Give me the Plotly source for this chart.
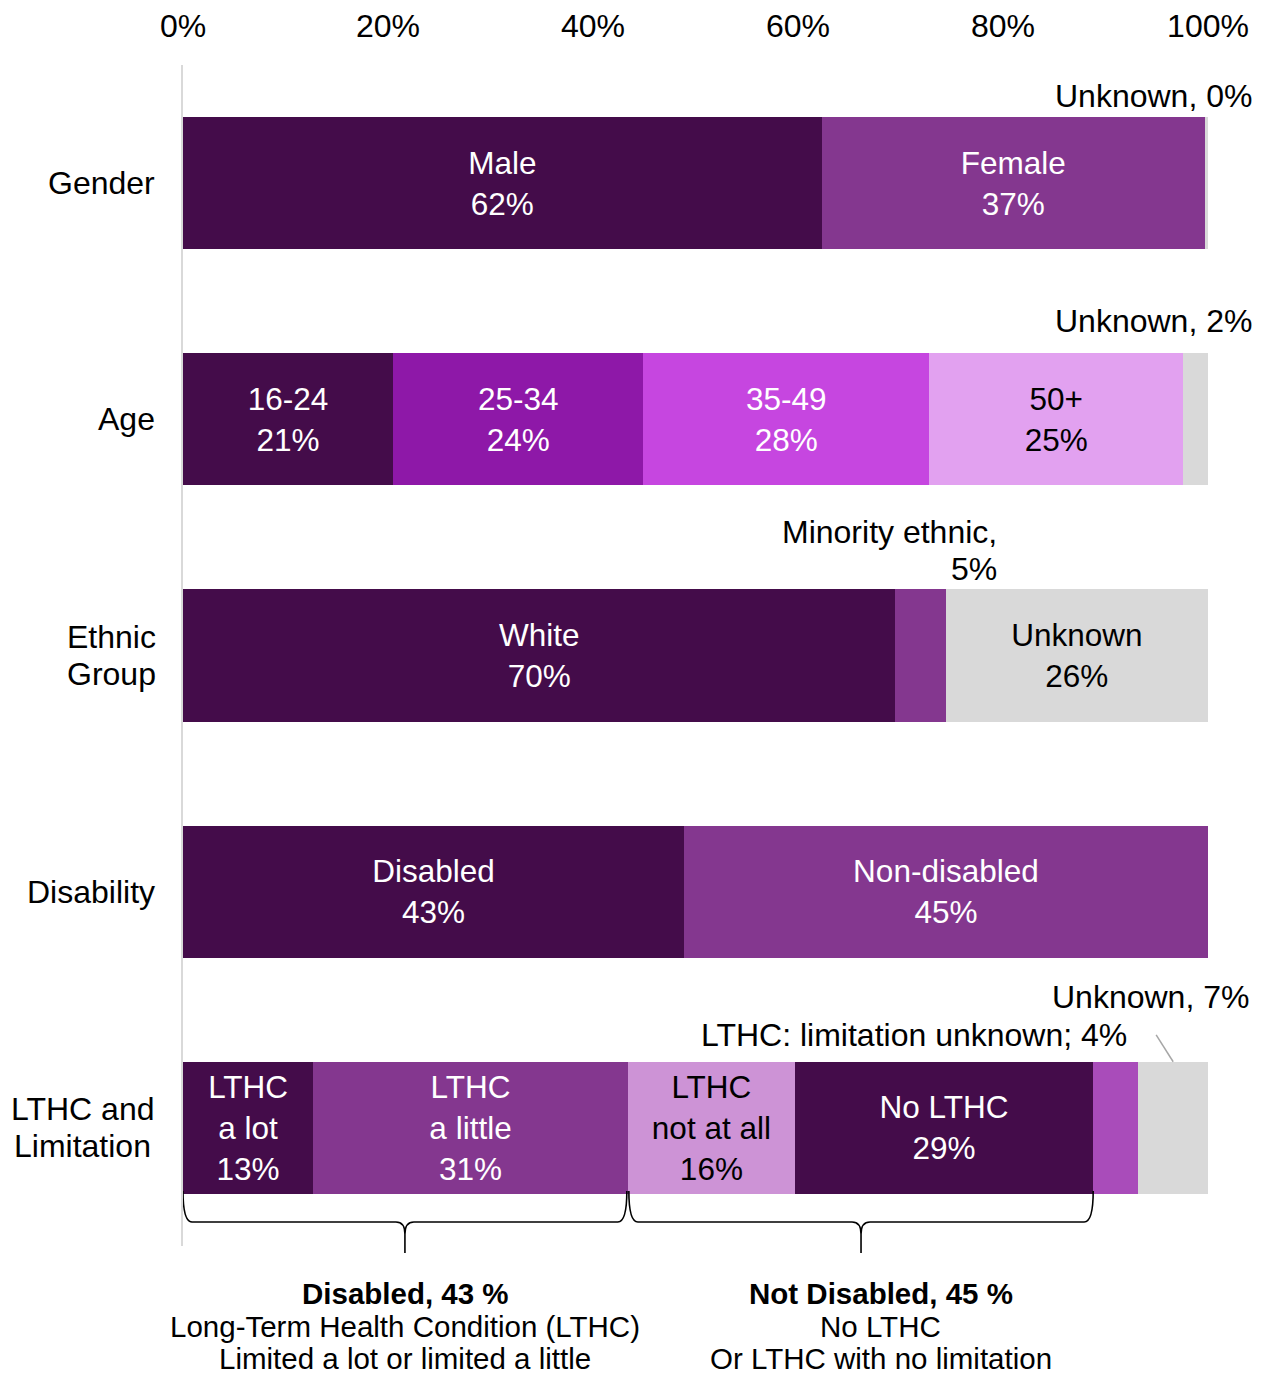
import plotly.graph_objects as go

# ---------------- data ----------------
categories = ["Gender", "Age", "Ethnic Group", "Disability", "LTHC and Limitation"]
category_label_lines = [["Gender"], ["Age"], ["Ethnic", "Group"], ["Disability"], ["LTHC and", "Limitation"]]

gender_segments = ["Male", "Female", "Unknown"]
gender_values = [62.3, 37.4, 0.3]
gender_pct = ["62%", "37%", "0%"]

age_segments = ["16-24", "25-34", "35-49", "50+", "Unknown"]
age_values = [20.5, 24.4, 27.9, 24.8, 2.4]
age_pct = ["21%", "24%", "28%", "25%", "2%"]

ethnic_segments = ["White", "Minority ethnic", "Unknown"]
ethnic_values = [69.5, 4.9, 25.6]
ethnic_pct = ["70%", "5%", "26%"]

disability_segments = ["Disabled", "Non-disabled"]
disability_values = [43, 45]
disability_pct = ["43%", "45%"]

lthc_segments = ["LTHC<br>a lot", "LTHC<br>a little", "LTHC<br>not at all", "No LTHC",
                 "LTHC: limitation unknown", "Unknown"]
lthc_values = [12.7, 30.7, 16.3, 29.1, 4.4, 6.8]
lthc_pct = ["13%", "31%", "16%", "29%", "4%", "7%"]

x_tick_values = [0, 20, 40, 60, 80, 100]
x_tick_labels = ["0%", "20%", "40%", "60%", "80%", "100%"]

# ---------------- styles ----------------
DARK = "#440C4A"
MED = "#84378F"
GREY = "#D9D9D9"

gender_colors = [DARK, MED, GREY]
age_colors = [DARK, "#8E18A8", "#C646E0", "#E2A1F0", GREY]
ethnic_colors = [DARK, MED, GREY]
disability_colors = [DARK, MED]
lthc_colors = [DARK, MED, "#CD93D6", DARK, "#A94CBA", GREY]

gender_text_col = ["white", "white", "black"]
age_text_col = ["white", "white", "white", "black", "black"]
ethnic_text_col = ["white", "white", "black"]
disability_text_col = ["white", "white"]
lthc_text_col = ["white", "white", "black", "white", "black", "black"]

gender_inside = [True, True, False]
age_inside = [True, True, True, True, False]
ethnic_inside = [True, False, True]
disability_inside = [True, True]
lthc_inside = [True, True, True, True, False, False]

FONT = "Liberation Sans, Arial, sans-serif"
FS = 32
FS_BAR = 31.5
FS_NOTE = 29.5
LINE = 37
W, H = 1267, 1376
ML, MR, MT, MB = 183, 59, 65, 130
PLOT_H = H - MT - MB
PLOT_W = W - ML - MR


def py2paper(py):
    return (H - MB - py) / PLOT_H


def px2data(px):
    return px * 100.0 / PLOT_W


groups = [
    (gender_segments, gender_values, gender_pct, gender_colors, gender_text_col, gender_inside),
    (age_segments, age_values, age_pct, age_colors, age_text_col, age_inside),
    (ethnic_segments, ethnic_values, ethnic_pct, ethnic_colors, ethnic_text_col, ethnic_inside),
    (disability_segments, disability_values, disability_pct, disability_colors, disability_text_col, disability_inside),
    (lthc_segments, lthc_values, lthc_pct, lthc_colors, lthc_text_col, lthc_inside),
]

fig = go.Figure()

cum_norm = {}  # normalised cumulative ends per category
for cat, (segs, vals, pcts, cols, tcols, inside) in zip(categories, groups):
    total = sum(vals)
    run = 0.0
    ends = []
    for s, v, p, c, tc, ins in zip(segs, vals, pcts, cols, tcols, inside):
        run += v
        ends.append(run / total * 100)
        fig.add_trace(go.Bar(
            y=[cat], x=[v], orientation="h", name=s,
            marker=dict(color=c, line=dict(width=0)),
            text=[f"{s}<br>{p}" if ins else ""],
            textposition="inside", insidetextanchor="middle", textangle=0,
            textfont=dict(color=tc, size=FS_BAR, family=FONT),
            hoverinfo="skip", showlegend=False,
        ))
    cum_norm[cat] = ends

annotations = []


def txt(text, x, xref, xanchor, xshift, y, yref, yshift=0, size=FS):
    annotations.append(dict(x=x, xref=xref, xanchor=xanchor, xshift=xshift,
                            y=y, yref=yref, yanchor="middle", yshift=yshift,
                            text=text, showarrow=False,
                            font=dict(size=size, color="black", family=FONT)))


# category labels: single lines right-aligned, two-line labels centred
label_centre_shift = {"Ethnic Group": -72, "LTHC and Limitation": -101}
for cat, lines in zip(categories, category_label_lines):
    if len(lines) == 1:
        txt(lines[0], 0, "paper", "right", -26, cat, "y")
    else:
        n = len(lines)
        for i, ln in enumerate(lines):
            off = ((n - 1) / 2 - i) * LINE
            txt(ln, 0, "paper", "center", label_centre_shift[cat], cat, "y", yshift=off)

# outside labels
txt(f"{gender_segments[2]}, {gender_pct[2]}", 100, "x", "right", 46, "Gender", "y", yshift=87)
txt(f"{age_segments[4]}, {age_pct[4]}", 100, "x", "right", 46, "Age", "y", yshift=98)
eth_end = cum_norm["Ethnic Group"][1]
txt(f"{ethnic_segments[1]},", eth_end, "x", "right", 53, "Ethnic Group", "y", yshift=124)
txt(f"{ethnic_pct[1]}", eth_end, "x", "right", 53, "Ethnic Group", "y", yshift=87)
txt(f"{lthc_segments[5]}, {lthc_pct[5]}", 100, "x", "right", 43, "LTHC and Limitation", "y", yshift=131)
lthc_ends = cum_norm["LTHC and Limitation"]
txt(f"{lthc_segments[4]}; {lthc_pct[4]}", lthc_ends[4], "x", "right", -9,
    "LTHC and Limitation", "y", yshift=93)

shapes = []
# leader line to the LTHC Unknown segment
unk_mid = (lthc_ends[4] + lthc_ends[5]) / 2
shapes.append(dict(type="line", xref="x", yref="y",
                   x0=unk_mid - px2data(17), y0=4 - 93 / 236,
                   x1=unk_mid, y1=4 - 0.28,
                   line=dict(color="#A6A6A6", width=1.5)))

# curly braces below LTHC bar
y_top = py2paper(1191)
y_h = py2paper(1222)
y_bot = py2paper(1253)
r = px2data(9)
ry = 12 / PLOT_H


def brace(x0, x1):
    xc = (x0 + x1) / 2
    return (f"M {x0},{y_top} Q {x0},{y_h} {x0 + r},{y_h} L {xc - r},{y_h} "
            f"Q {xc},{y_h} {xc},{y_h - ry} L {xc},{y_bot} "
            f"M {xc},{y_h - ry} Q {xc},{y_h} {xc + r},{y_h} L {x1 - r},{y_h} "
            f"Q {x1},{y_h} {x1},{y_top}")


disabled_end = lthc_ends[1]
not_disabled_end = lthc_ends[3]
shapes.append(dict(type="path", xref="x", yref="paper",
                   path=brace(0.0, disabled_end - px2data(1)),
                   line=dict(color="black", width=1.6)))
shapes.append(dict(type="path", xref="x", yref="paper",
                   path=brace(disabled_end + px2data(1), not_disabled_end),
                   line=dict(color="black", width=1.6)))

# texts under the braces
left_lines = [f"<b>Disabled, {disability_values[0]} %</b>",
              "Long-Term Health Condition (LTHC)",
              "Limited a lot or limited a little"]
right_lines = [f"<b>Not Disabled, {disability_values[1]} %</b>",
               "No LTHC",
               "Or LTHC with no limitation"]
line_py = [1293, 1326, 1359]
for lines, xc, xs in [(left_lines, disabled_end / 2, 0),
                      (right_lines, (disabled_end + not_disabled_end) / 2, 20)]:
    for t, py in zip(lines, line_py):
        txt(t, xc, "x", "center", xs, py2paper(py), "paper", size=FS_NOTE)

fig.update_layout(
    barmode="stack", barnorm="percent", bargap=0.44,
    width=W, height=H,
    margin=dict(l=ML, r=MR, t=MT, b=MB, pad=0, autoexpand=False),
    paper_bgcolor="white", plot_bgcolor="white",
    font=dict(family=FONT, size=FS, color="black"),
    uniformtext=dict(minsize=FS_BAR, mode="show"),
    annotations=annotations, shapes=shapes,
    hovermode=False,
)
fig.update_xaxes(range=[0, 100], side="top", tickmode="array",
                 tickvals=x_tick_values, ticktext=x_tick_labels,
                 showgrid=False, zeroline=False, showline=False, ticks="",
                 ticklabelstandoff=21, automargin=False,
                 tickfont=dict(size=FS, color="black", family=FONT))
fig.update_yaxes(categoryorder="array", categoryarray=categories,
                 range=[4.5, -0.5], showticklabels=False, showgrid=False,
                 automargin=False,
                 zeroline=False, showline=True, linecolor=GREY, linewidth=2, ticks="")

fig.write_html("out.html", config={"displayModeBar": False},
               post_script="document.body.style.margin='0';")
